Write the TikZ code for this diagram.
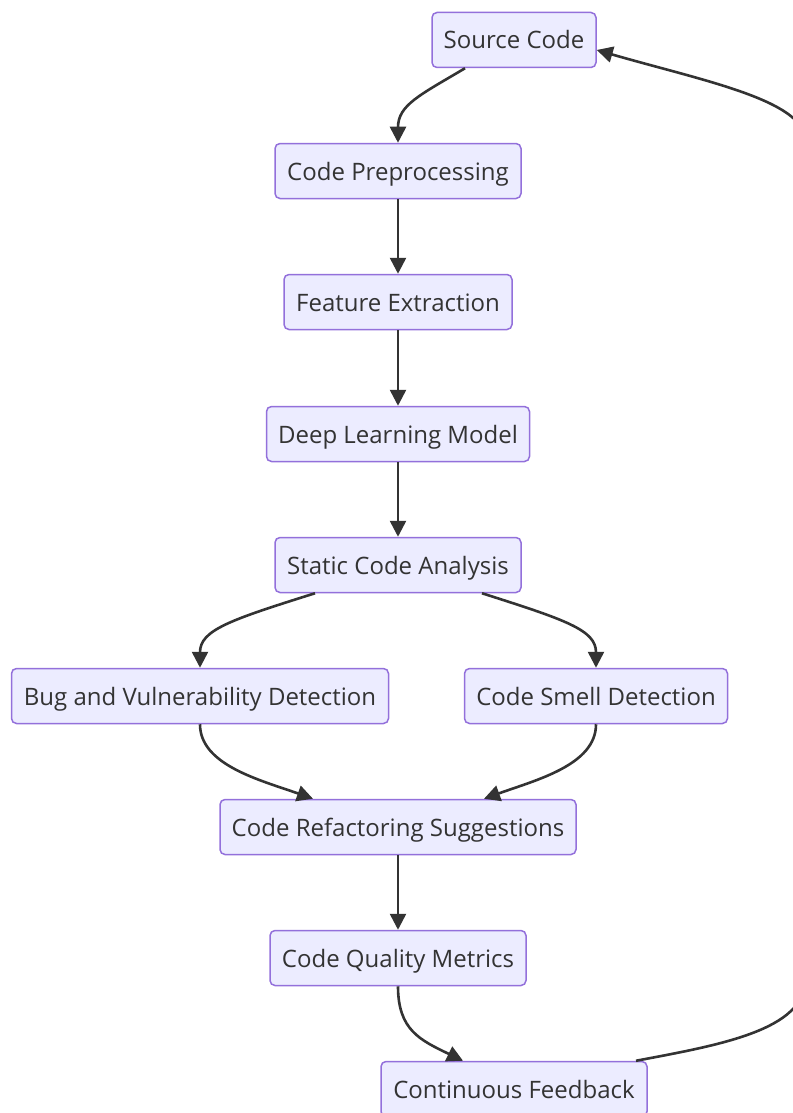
\documentclass[tikz,border=0pt]{standalone}
\usepackage{fontspec}
\setmainfont{Open Sans}
\usetikzlibrary{arrows.meta}
\definecolor{nodefill}{HTML}{ECECFF}
\definecolor{nodeline}{HTML}{9370DB}
\definecolor{edgec}{HTML}{333333}
\begin{document}
\begin{tikzpicture}[x=1pt,y=-1pt,
  box/.style={draw=nodeline,fill=nodefill,line width=1.5pt,rounded corners=5pt,
    minimum height=55pt,inner sep=0pt,text height=20.5pt,text depth=2.5pt,
    text=edgec,font=\fontsize{24}{28}\selectfont},
  link/.style={draw=edgec,line width=2.6pt,-{Triangle[length=16pt,width=16pt]}}]
\useasboundingbox (0,0) rectangle (792,1113);
\node[box,minimum width=164pt] (src) at (514,40) {Source Code};
\node[box,minimum width=246pt] (pre) at (398,171) {Code Preprocessing};
\node[box,minimum width=228pt] (fe) at (398,302) {Feature Extraction};
\node[box,minimum width=263pt] (dl) at (398,434) {Deep Learning Model};
\node[box,minimum width=246pt] (sca) at (398,565) {Static Code Analysis};
\node[box,minimum width=377pt] (bug) at (200,696) {Bug and Vulnerability Detection};
\node[box,minimum width=263pt] (smell) at (596,696) {Code Smell Detection};
\node[box,minimum width=356pt] (ref) at (398,827) {Code Refactoring Suggestions};
\node[box,minimum width=256pt] (cqm) at (398,958) {Code Quality Metrics};
\node[box,minimum width=266pt] (fb) at (514,1089) {Continuous Feedback};

\draw[link] ([xshift=-49pt]src.south) .. controls (420,95) and (398,105) .. (pre.north);
\draw[link] (pre) -- (fe);
\draw[link] (fe) -- (dl);
\draw[link] (dl) -- (sca);
\draw[link] ([xshift=-83pt]sca.south) .. controls (230,620) and (200,630) .. (bug.north);
\draw[link] ([xshift=84pt]sca.south) .. controls (566,620) and (596,630) .. (smell.north);
\draw[link] (bug.south) .. controls (200,765) and (260,780) .. ([xshift=-85pt]ref.north);
\draw[link] (smell.south) .. controls (596,765) and (536,780) .. ([xshift=86pt]ref.north);
\draw[link] (ref) -- (cqm);
\draw[link] (cqm.south) .. controls (398,1030) and (420,1040) .. ([xshift=-51pt]fb.north);
\draw[link] ([xshift=122pt]fb.north) .. controls (720,1045) and (805,1030) .. (805,980)
  -- (805,140) .. controls (805,100) and (700,80) .. ([yshift=-10pt]src.east);
\end{tikzpicture}
\end{document}
